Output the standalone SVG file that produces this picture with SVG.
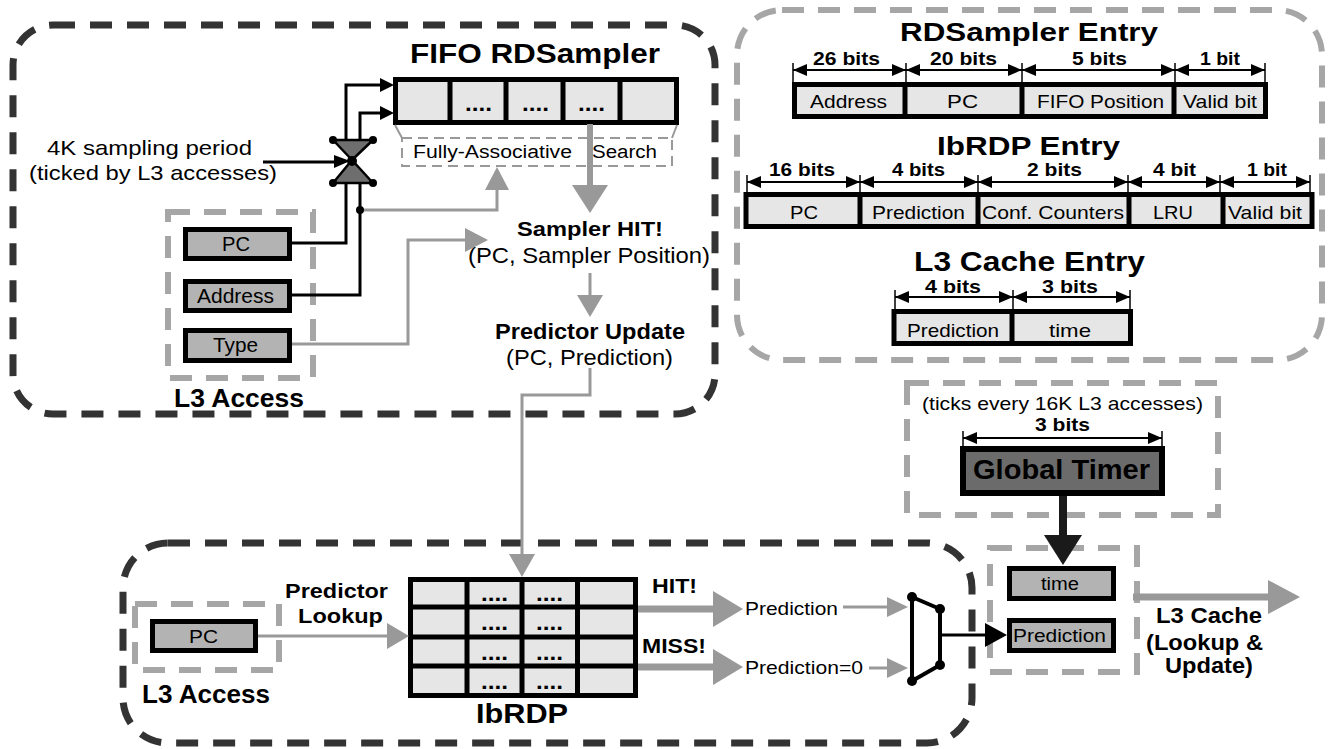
<svg xmlns="http://www.w3.org/2000/svg" width="1332" height="749" viewBox="0 0 1332 749">
<style>
text{font-family:"Liberation Sans",Arial,sans-serif;fill:#000}
.b{font-weight:bold}
.darkdash{fill:none;stroke:#333;stroke-width:7;stroke-dasharray:22 15}
.graydash{fill:none;stroke:#a6a6a6;stroke-width:6;stroke-dasharray:22 14}
.thindash{fill:none;stroke:#999;stroke-width:2;stroke-dasharray:10 6}
.cell{fill:#e6e6e6;stroke:#000;stroke-width:5}
.reg{fill:#b3b3b3;stroke:#000;stroke-width:5}
.div{stroke:#000;stroke-width:5}
.tick{stroke:#000;stroke-width:1.5}
.dim{stroke:#000;stroke-width:2;marker-start:url(#ah);marker-end:url(#ah)}
.bl{fill:none;stroke:#000;stroke-width:3}
.gl{fill:none;stroke:#999;stroke-width:3}
.gfat{fill:none;stroke:#999;stroke-width:7}
.gh{fill:#999}
.bh{fill:#000}
.dot{fill:#000}
</style>
<defs>
<marker id="ah" viewBox="0 0 14 12" refX="14" refY="6" markerWidth="14" markerHeight="12" markerUnits="userSpaceOnUse" orient="auto-start-reverse">
<path d="M0,0 L14,6 L0,12 z" fill="#000"/>
</marker>
</defs>

<!-- container boxes -->
<g id="sampler-region">
<rect class="darkdash" x="13" y="25" width="702" height="389" rx="40"/>
<text class="b" x="410" y="63" font-size="28" textLength="250" lengthAdjust="spacingAndGlyphs">FIFO RDSampler</text>
</g>
<g id="entries-region">
<rect class="graydash" x="737" y="10" width="585" height="350" rx="45" stroke-dasharray="20 17"/>
</g>
<g id="ibrdp-region">
<rect class="darkdash" x="123" y="543" width="849" height="200" rx="45"/>
</g>

<!-- FIFO array -->
<g id="fifo">
<rect class="cell" x="395.5" y="79.5" width="281" height="43"/>
<line class="div" x1="450" y1="80" x2="450" y2="122"/>
<line class="div" x1="506" y1="80" x2="506" y2="122"/>
<line class="div" x1="563" y1="80" x2="563" y2="122"/>
<line class="div" x1="620" y1="80" x2="620" y2="122"/>
<text class="b" x="465" y="111" font-size="22" textLength="27" lengthAdjust="spacingAndGlyphs">....</text>
<text class="b" x="522" y="111" font-size="22" textLength="27" lengthAdjust="spacingAndGlyphs">....</text>
<text class="b" x="578" y="111" font-size="22" textLength="27" lengthAdjust="spacingAndGlyphs">....</text>
</g>
<g id="fa-search">
<line x1="395" y1="125" x2="402" y2="138" stroke="#999" stroke-width="2"/>
<line x1="677" y1="125" x2="672" y2="138" stroke="#999" stroke-width="2"/>
<rect class="thindash" x="402" y="138" width="270" height="28"/>
<text x="413" y="158" font-size="18" textLength="159" lengthAdjust="spacingAndGlyphs">Fully-Associative</text>
<text x="592" y="158" font-size="18" textLength="65" lengthAdjust="spacingAndGlyphs">Search</text>
</g>
<g id="sampling-label">
<text x="47" y="155" font-size="21" textLength="205" lengthAdjust="spacingAndGlyphs">4K sampling period</text>
<text x="29" y="180" font-size="21" textLength="248" lengthAdjust="spacingAndGlyphs">(ticked by L3 accesses)</text>
</g>

<!-- L3 access (top) -->
<g id="l3access-top">
<rect class="graydash" x="168" y="212" width="145" height="166" stroke-dasharray="24 10"/>
<rect class="reg" x="185.5" y="229.5" width="104" height="29"/>
<rect class="reg" x="185.5" y="281.5" width="104" height="29"/>
<rect class="reg" x="185.5" y="330.5" width="104" height="30"/>
<text x="222" y="251" font-size="20" textLength="28" lengthAdjust="spacingAndGlyphs">PC</text>
<text x="197" y="303" font-size="20" textLength="77" lengthAdjust="spacingAndGlyphs">Address</text>
<text x="213" y="352" font-size="20" textLength="45" lengthAdjust="spacingAndGlyphs">Type</text>
<text class="b" x="174" y="407" font-size="25" textLength="130" lengthAdjust="spacingAndGlyphs">L3 Access</text>
</g>

<g id="sampler-hit">
<text class="b" x="517" y="236" font-size="21" textLength="146" lengthAdjust="spacingAndGlyphs">Sampler HIT!</text>
<text x="468" y="263" font-size="22" textLength="242" lengthAdjust="spacingAndGlyphs">(PC, Sampler Position)</text>
</g>
<g id="predictor-update">
<text class="b" x="495" y="339" font-size="22" textLength="190" lengthAdjust="spacingAndGlyphs">Predictor Update</text>
<text x="506" y="365" font-size="22" textLength="167" lengthAdjust="spacingAndGlyphs">(PC, Prediction)</text>
</g>

<!-- RDSampler entry -->
<g id="rdsampler-entry">
<text class="b" x="900" y="41" font-size="26" textLength="258" lengthAdjust="spacingAndGlyphs">RDSampler Entry</text>
<line class="tick" x1="793" y1="63" x2="793" y2="84"/>
<line class="tick" x1="906" y1="63" x2="906" y2="84"/>
<line class="tick" x1="1022" y1="63" x2="1022" y2="84"/>
<line class="tick" x1="1175" y1="63" x2="1175" y2="84"/>
<line class="tick" x1="1265" y1="63" x2="1265" y2="84"/>
<line class="dim" x1="793" y1="70" x2="906" y2="70"/>
<line class="dim" x1="906" y1="70" x2="1022" y2="70"/>
<line class="dim" x1="1022" y1="70" x2="1175" y2="70"/>
<line class="dim" x1="1175" y1="70" x2="1265" y2="70"/>
<text class="b" x="813" y="65" font-size="18" textLength="67" lengthAdjust="spacingAndGlyphs">26 bits</text>
<text class="b" x="930" y="65" font-size="18" textLength="67" lengthAdjust="spacingAndGlyphs">20 bits</text>
<text class="b" x="1072" y="65" font-size="18" textLength="55" lengthAdjust="spacingAndGlyphs">5 bits</text>
<text class="b" x="1200" y="65" font-size="18" textLength="40" lengthAdjust="spacingAndGlyphs">1 bit</text>
<rect class="cell" x="794.5" y="84.5" width="471" height="32"/>
<line class="div" x1="905" y1="85" x2="905" y2="117"/>
<line class="div" x1="1022" y1="85" x2="1022" y2="117"/>
<line class="div" x1="1174" y1="85" x2="1174" y2="117"/>
<text x="810" y="108" font-size="19" textLength="77" lengthAdjust="spacingAndGlyphs">Address</text>
<text x="947" y="108" font-size="19" textLength="31" lengthAdjust="spacingAndGlyphs">PC</text>
<text x="1037" y="108" font-size="19" textLength="127" lengthAdjust="spacingAndGlyphs">FIFO Position</text>
<text x="1183" y="108" font-size="19" textLength="74" lengthAdjust="spacingAndGlyphs">Valid bit</text>
</g>

<!-- IbRDP entry -->
<g id="ibrdp-entry">
<text class="b" x="937" y="155" font-size="26" textLength="183" lengthAdjust="spacingAndGlyphs">IbRDP Entry</text>
<line class="tick" x1="747" y1="175" x2="747" y2="194"/>
<line class="tick" x1="860" y1="175" x2="860" y2="194"/>
<line class="tick" x1="978" y1="175" x2="978" y2="194"/>
<line class="tick" x1="1128" y1="175" x2="1128" y2="194"/>
<line class="tick" x1="1220" y1="175" x2="1220" y2="194"/>
<line class="tick" x1="1310" y1="175" x2="1310" y2="194"/>
<line class="dim" x1="747" y1="182" x2="860" y2="182"/>
<line class="dim" x1="860" y1="182" x2="978" y2="182"/>
<line class="dim" x1="978" y1="182" x2="1128" y2="182"/>
<line class="dim" x1="1128" y1="182" x2="1220" y2="182"/>
<line class="dim" x1="1220" y1="182" x2="1310" y2="182"/>
<text class="b" x="769" y="176" font-size="18" textLength="66" lengthAdjust="spacingAndGlyphs">16 bits</text>
<text class="b" x="892" y="176" font-size="18" textLength="53" lengthAdjust="spacingAndGlyphs">4 bits</text>
<text class="b" x="1027" y="176" font-size="18" textLength="55" lengthAdjust="spacingAndGlyphs">2 bits</text>
<text class="b" x="1153" y="176" font-size="18" textLength="43" lengthAdjust="spacingAndGlyphs">4 bit</text>
<text class="b" x="1247" y="176" font-size="18" textLength="40" lengthAdjust="spacingAndGlyphs">1 bit</text>
<rect class="cell" x="746" y="194.5" width="566" height="32"/>
<line class="div" x1="860" y1="195" x2="860" y2="227"/>
<line class="div" x1="978" y1="195" x2="978" y2="227"/>
<line class="div" x1="1129" y1="195" x2="1129" y2="227"/>
<line class="div" x1="1223" y1="195" x2="1223" y2="227"/>
<text x="790" y="219" font-size="19" textLength="28" lengthAdjust="spacingAndGlyphs">PC</text>
<text x="872" y="219" font-size="19" textLength="93" lengthAdjust="spacingAndGlyphs">Prediction</text>
<text x="982" y="219" font-size="19" textLength="142" lengthAdjust="spacingAndGlyphs">Conf. Counters</text>
<text x="1153" y="219" font-size="19" textLength="40" lengthAdjust="spacingAndGlyphs">LRU</text>
<text x="1228" y="219" font-size="19" textLength="74" lengthAdjust="spacingAndGlyphs">Valid bit</text>
</g>

<!-- L3 cache entry -->
<g id="l3-entry">
<text class="b" x="914" y="271" font-size="27" textLength="231" lengthAdjust="spacingAndGlyphs">L3 Cache Entry</text>
<line class="tick" x1="895" y1="290" x2="895" y2="311"/>
<line class="tick" x1="1013" y1="290" x2="1013" y2="311"/>
<line class="tick" x1="1130" y1="290" x2="1130" y2="311"/>
<line class="dim" x1="895" y1="297" x2="1013" y2="297"/>
<line class="dim" x1="1013" y1="297" x2="1130" y2="297"/>
<text class="b" x="925" y="293" font-size="18" textLength="56" lengthAdjust="spacingAndGlyphs">4 bits</text>
<text class="b" x="1042" y="293" font-size="18" textLength="56" lengthAdjust="spacingAndGlyphs">3 bits</text>
<rect class="cell" x="894" y="311.5" width="236.5" height="32"/>
<line class="div" x1="1012" y1="312" x2="1012" y2="344"/>
<text x="907" y="337" font-size="19" textLength="92" lengthAdjust="spacingAndGlyphs">Prediction</text>
<text x="1049" y="337" font-size="19" textLength="42" lengthAdjust="spacingAndGlyphs">time</text>
</g>

<!-- Global timer -->
<g id="global-timer">
<rect class="graydash" x="907" y="383" width="311" height="132"/>
<text x="922" y="410" font-size="19" textLength="281" lengthAdjust="spacingAndGlyphs">(ticks every 16K L3 accesses)</text>
<line class="tick" x1="963" y1="431" x2="963" y2="447"/>
<line class="tick" x1="1162" y1="431" x2="1162" y2="447"/>
<line class="dim" x1="963" y1="438" x2="1162" y2="438"/>
<text class="b" x="1035" y="431" font-size="18" textLength="55" lengthAdjust="spacingAndGlyphs">3 bits</text>
<rect x="963" y="449" width="199" height="44" fill="#6b6b6b" stroke="#000" stroke-width="6"/>
<text class="b" x="973" y="479" font-size="28" textLength="177" lengthAdjust="spacingAndGlyphs">Global Timer</text>
</g>

<!-- L3 access (bottom) -->
<g id="l3access-bottom">
<rect class="graydash" x="135" y="604" width="144" height="66" stroke-dasharray="24 10"/>
<rect class="reg" x="152.5" y="621.5" width="103" height="29"/>
<text x="189" y="643" font-size="19" textLength="29" lengthAdjust="spacingAndGlyphs">PC</text>
<text class="b" x="142" y="703" font-size="25" textLength="128" lengthAdjust="spacingAndGlyphs">L3 Access</text>
</g>
<g id="predictor-lookup">
<text class="b" x="285" y="598" font-size="21" textLength="103" lengthAdjust="spacingAndGlyphs">Predictor</text>
<text class="b" x="298" y="623" font-size="21" textLength="85" lengthAdjust="spacingAndGlyphs">Lookup</text>
</g>

<!-- IbRDP table -->
<g id="ibrdp">
<rect class="cell" x="410.5" y="579.5" width="225" height="116"/>
<line class="div" x1="467" y1="580" x2="467" y2="695"/>
<line class="div" x1="522" y1="580" x2="522" y2="695"/>
<line class="div" x1="577.5" y1="580" x2="577.5" y2="695"/>
<line class="div" x1="411" y1="607" x2="635" y2="607"/>
<line class="div" x1="411" y1="637" x2="635" y2="637"/>
<line class="div" x1="411" y1="666" x2="635" y2="666"/>
<text class="b" x="481" y="601" font-size="22" textLength="27" lengthAdjust="spacingAndGlyphs">....</text>
<text class="b" x="536" y="601" font-size="22" textLength="27" lengthAdjust="spacingAndGlyphs">....</text>
<text class="b" x="481" y="630" font-size="22" textLength="27" lengthAdjust="spacingAndGlyphs">....</text>
<text class="b" x="536" y="630" font-size="22" textLength="27" lengthAdjust="spacingAndGlyphs">....</text>
<text class="b" x="481" y="660" font-size="22" textLength="27" lengthAdjust="spacingAndGlyphs">....</text>
<text class="b" x="536" y="660" font-size="22" textLength="27" lengthAdjust="spacingAndGlyphs">....</text>
<text class="b" x="481" y="689" font-size="22" textLength="27" lengthAdjust="spacingAndGlyphs">....</text>
<text class="b" x="536" y="689" font-size="22" textLength="27" lengthAdjust="spacingAndGlyphs">....</text>
<text class="b" x="476" y="723" font-size="28" textLength="92" lengthAdjust="spacingAndGlyphs">IbRDP</text>
</g>
<g id="hit-miss">
<text class="b" x="652" y="593" font-size="21" textLength="45" lengthAdjust="spacingAndGlyphs">HIT!</text>
<text class="b" x="642" y="653" font-size="21" textLength="64" lengthAdjust="spacingAndGlyphs">MISS!</text>
<text x="745" y="615" font-size="19" textLength="93" lengthAdjust="spacingAndGlyphs">Prediction</text>
<text x="745" y="674" font-size="19" textLength="118" lengthAdjust="spacingAndGlyphs">Prediction=0</text>
</g>

<!-- gate -->
<g id="gate">
<polygon points="333,140 373,140 352,160" fill="#6e6e6e" stroke="#000" stroke-width="2.5" stroke-linejoin="round"/>
<polygon points="352,160 333,183 373,183" fill="#6e6e6e" stroke="#000" stroke-width="2.5" stroke-linejoin="round"/>
<circle class="dot" cx="333" cy="140" r="4"/>
<circle class="dot" cx="373" cy="140" r="4"/>
<circle class="dot" cx="333" cy="183" r="4"/>
<circle class="dot" cx="373" cy="183" r="4"/>
<circle class="dot" cx="352" cy="161" r="5"/>
</g>

<!-- mux -->
<g id="mux">
<polygon points="912,597 940,609 940,665 912,681" fill="#fff" stroke="#000" stroke-width="4" stroke-linejoin="round"/>
<circle class="dot" cx="912" cy="597" r="5"/>
<circle class="dot" cx="940" cy="609" r="5"/>
<circle class="dot" cx="940" cy="665" r="5"/>
<circle class="dot" cx="912" cy="681" r="5"/>
</g>

<!-- L3 cache -->
<g id="l3-cache">
<rect class="graydash" x="990" y="548" width="147" height="124"/>
<rect class="reg" x="1009.5" y="568.5" width="104" height="30"/>
<rect class="reg" x="1009.5" y="620.5" width="104" height="30"/>
<text x="1041" y="590" font-size="18" textLength="38" lengthAdjust="spacingAndGlyphs">time</text>
<text x="1013" y="642" font-size="18" textLength="93" lengthAdjust="spacingAndGlyphs">Prediction</text>
<text class="b" x="1156" y="623" font-size="22" textLength="106" lengthAdjust="spacingAndGlyphs">L3 Cache</text>
<text class="b" x="1146" y="650" font-size="22" textLength="117" lengthAdjust="spacingAndGlyphs">(Lookup &amp;</text>
<text class="b" x="1165" y="673" font-size="22" textLength="88" lengthAdjust="spacingAndGlyphs">Update)</text>
</g>

<!-- connectors -->
<g id="connectors">
<line class="bl" x1="263" y1="162" x2="336" y2="162"/>
<polygon class="bh" points="334,155 350,161 334,168"/>
<path class="bl" d="M292,243 H346 V183 M346,140 V85 H381"/>
<polygon class="bh" points="380,78 394,85 380,92"/>
<path class="bl" d="M292,295 H360 V183 M360,140 V113 H381"/>
<polygon class="bh" points="380,106 394,113 380,120"/>
<path class="gl" d="M361,210 H497 V188"/>
<polygon class="gh" points="485,190 497,167 509,190"/>
<circle class="dot" cx="360" cy="210" r="4"/>
<path class="gl" d="M292,344 H408 V240 H467"/>
<polygon class="gh" points="465,228 488,240 465,252"/>
<line x1="590" y1="124" x2="590" y2="187" stroke="#999" stroke-width="6"/>
<polygon class="gh" points="572,185 608,185 590,213"/>
<line class="gl" x1="590" y1="273" x2="590" y2="297"/>
<polygon class="gh" points="577,295 603,295 590,317"/>
<path class="gl" d="M590,368 V395 H522 V556"/>
<polygon class="gh" points="509,554 535,554 522,577"/>
<line class="gl" x1="258" y1="636" x2="389" y2="636"/>
<polygon class="gh" points="387,623 409,636 387,649"/>
<line class="gfat" x1="638" y1="609" x2="715" y2="609"/>
<polygon class="gh" points="713,591 743,609 713,627"/>
<line class="gfat" x1="638" y1="667" x2="715" y2="667"/>
<polygon class="gh" points="713,649 743,667 713,685"/>
<line class="gl" x1="843" y1="607" x2="889" y2="607"/>
<polygon class="gh" points="887,597 908,607 887,617"/>
<line class="gl" x1="869" y1="668" x2="889" y2="668"/>
<polygon class="gh" points="887,658 908,668 887,678"/>
<line class="bl" x1="940" y1="635" x2="987" y2="635"/>
<polygon class="bh" points="985,623 1007,635 985,647"/>
<line x1="1063" y1="496" x2="1063" y2="537" stroke="#1a1a1a" stroke-width="8"/>
<polygon points="1044,535 1082,535 1063,565" fill="#1a1a1a"/>
<line class="gfat" x1="1133" y1="597" x2="1270" y2="597"/>
<polygon class="gh" points="1268,580 1300,597 1268,614"/>
</g>
</svg>
